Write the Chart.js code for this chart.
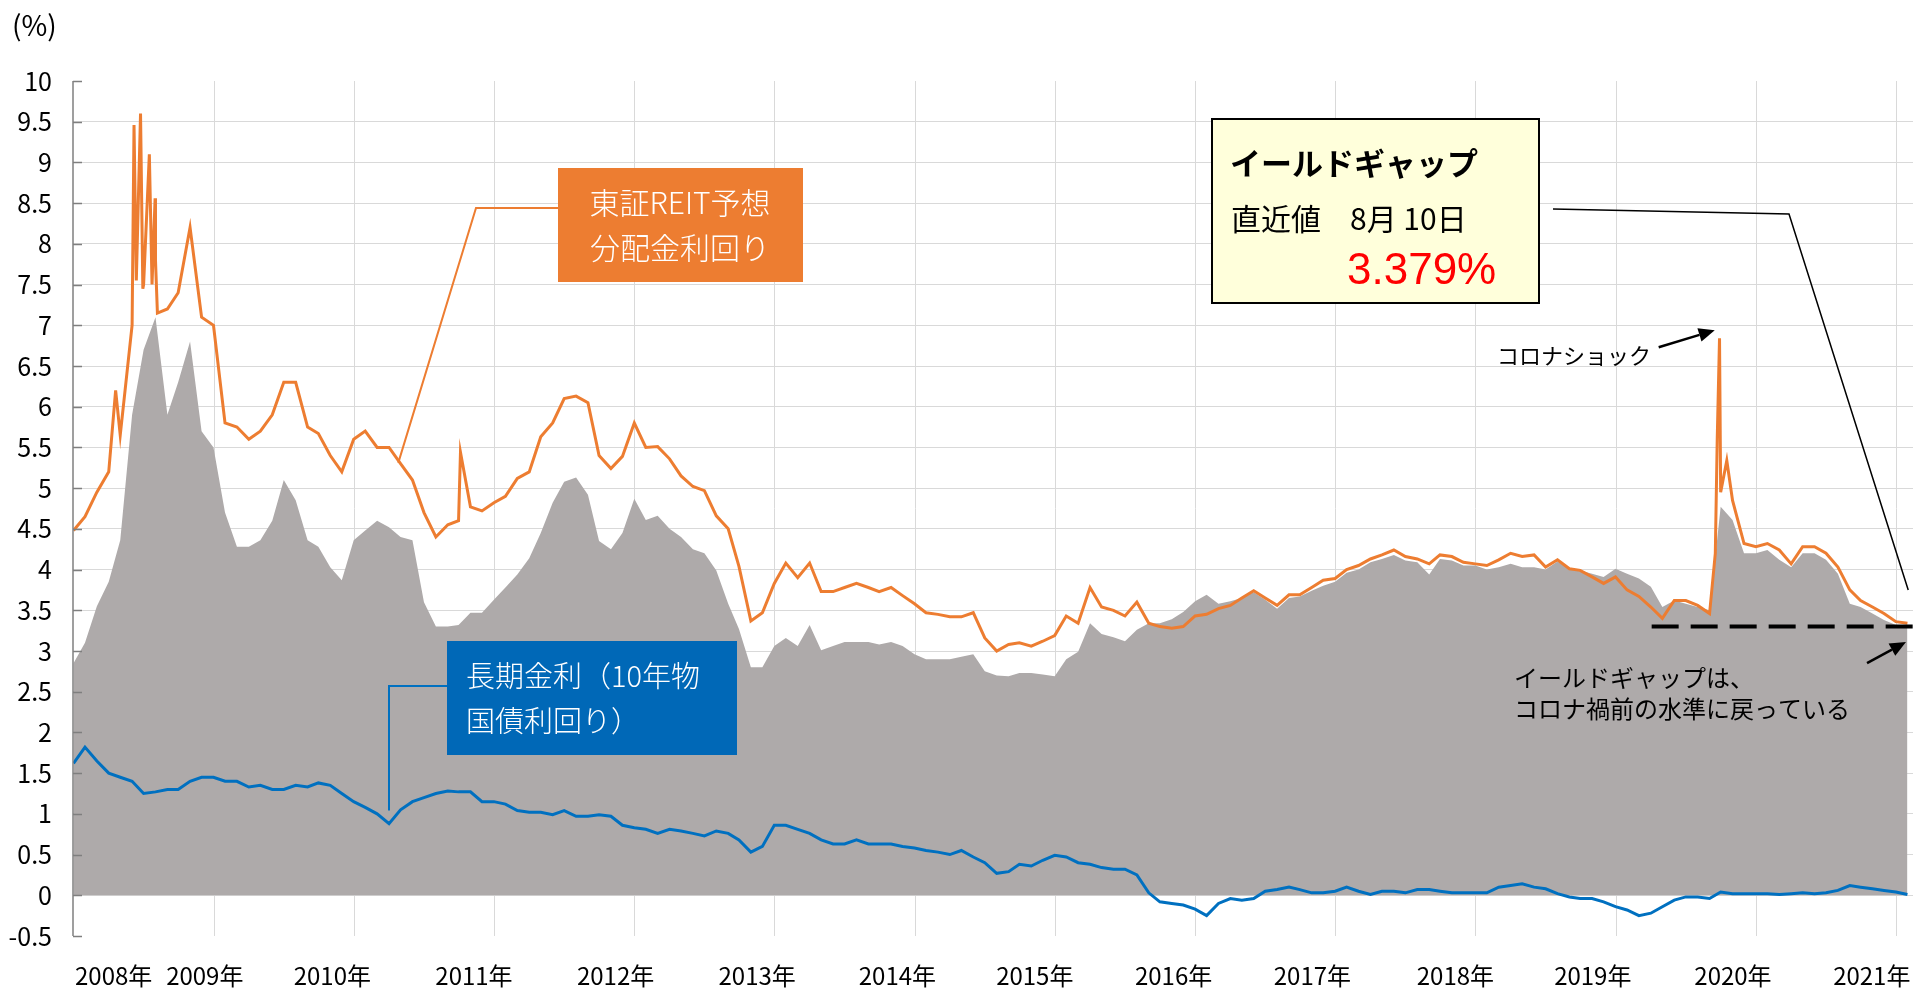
<!DOCTYPE html>
<html lang="ja">
<head>
<meta charset="utf-8">
<title>イールドギャップ</title>
<script src="https://cdn.jsdelivr.net/npm/chart.js"></script>
<style>
  html, body { margin: 0; padding: 0; background: #fff; }
  #wrap { position: relative; width: 1915px; height: 989px; }
</style>
</head>
<body>
<div id="wrap"><canvas id="myChart"></canvas></div>
<script>
// monthly readings (mid-month), first month 2008-06, last 2021-07
var firstYear = 2008, firstMonth = 6;

var reitYield = [
  4.48, 4.65, 4.95, 5.2, 5.65, 7.0, 7.5,
  7.8, 7.2, 7.4, 8.2, 7.1, 7.0, 5.8, 5.75, 5.6, 5.7, 5.9, 6.3,
  6.3, 5.75, 5.67, 5.4, 5.2, 5.6, 5.7, 5.5, 5.5, 5.3, 5.1, 4.7,
  4.4, 4.55, 4.6, 4.77, 4.72, 4.82, 4.9, 5.12, 5.2, 5.63, 5.8, 6.1,
  6.13, 6.05, 5.4, 5.24, 5.39, 5.8, 5.5, 5.51, 5.36, 5.15, 5.02, 4.97,
  4.66, 4.5, 4.04, 3.37, 3.47, 3.83, 4.08, 3.9, 4.08, 3.73, 3.73, 3.78,
  3.83, 3.78, 3.73, 3.78, 3.68, 3.58, 3.47, 3.45, 3.42, 3.42, 3.47, 3.16,
  3.0, 3.08, 3.1, 3.06, 3.12, 3.19, 3.43, 3.34, 3.78, 3.54, 3.5, 3.43,
  3.6, 3.34, 3.3, 3.28, 3.3, 3.43, 3.45, 3.52, 3.56, 3.65, 3.74, 3.65,
  3.56, 3.69, 3.69, 3.78, 3.87, 3.89, 4.0, 4.05, 4.13, 4.18, 4.24, 4.16,
  4.13, 4.07, 4.18, 4.16, 4.09, 4.07, 4.05, 4.12, 4.2, 4.16, 4.18, 4.03,
  4.12, 4.01, 3.99, 3.91, 3.83, 3.91, 3.75, 3.67, 3.54, 3.4, 3.62, 3.62,
  3.56, 3.46, 4.95, 4.85, 4.32, 4.28, 4.32, 4.24, 4.07, 4.28, 4.28, 4.2,
  4.03, 3.75, 3.62, 3.54, 3.46, 3.36, 3.34
];

// short-lived peaks of the REIT yield between the monthly readings
var reitSpikes = [
  ['2008-10-03', 6.2], ['2008-11-20', 9.46], ['2008-11-26', 7.55], ['2008-12-07', 9.6],
  ['2008-12-13', 7.45], ['2008-12-30', 9.1], ['2009-01-06', 7.5], ['2009-01-14', 8.56],
  ['2009-01-20', 7.15], ['2011-03-20', 5.44], ['2020-03-01', 4.2], ['2020-03-06', 5.6],
  ['2020-03-12', 6.84], ['2020-03-31', 5.34]
];

var jgbYield = [
  1.62, 1.82, 1.65, 1.5, 1.45, 1.4, 1.25,
  1.27, 1.3, 1.3, 1.4, 1.45, 1.45, 1.4, 1.4, 1.33, 1.35, 1.3, 1.3,
  1.35, 1.33, 1.38, 1.35, 1.25, 1.15, 1.08, 1.0, 0.88, 1.05, 1.15, 1.2,
  1.25, 1.28, 1.27, 1.27, 1.15, 1.15, 1.12, 1.04, 1.02, 1.02, 0.99, 1.04,
  0.97, 0.97, 0.99, 0.97, 0.86, 0.83, 0.81, 0.76, 0.81, 0.79, 0.76, 0.73,
  0.79, 0.76, 0.68, 0.53, 0.6, 0.86, 0.86, 0.81, 0.76, 0.68, 0.63, 0.63,
  0.68, 0.63, 0.63, 0.63, 0.6, 0.58, 0.55, 0.53, 0.5, 0.55, 0.47, 0.4,
  0.27, 0.29, 0.38, 0.36, 0.43, 0.49, 0.47, 0.4, 0.38, 0.34, 0.32, 0.32,
  0.25, 0.03, -0.08, -0.1, -0.12, -0.17, -0.25, -0.1, -0.04, -0.06, -0.04, 0.05,
  0.07, 0.1, 0.07, 0.03, 0.03, 0.05, 0.1, 0.05, 0.01, 0.05, 0.05, 0.03,
  0.07, 0.07, 0.05, 0.03, 0.03, 0.03, 0.03, 0.1, 0.12, 0.14, 0.1, 0.08,
  0.02, -0.02, -0.04, -0.04, -0.08, -0.14, -0.18, -0.25, -0.22, -0.14, -0.06, -0.02,
  -0.02, -0.04, 0.04, 0.02, 0.02, 0.02, 0.02, 0.01, 0.02, 0.03, 0.02, 0.03,
  0.06, 0.12, 0.1, 0.08, 0.06, 0.04, 0.01
];

var yieldGap = [
  2.85, 3.1, 3.55, 3.85, 4.36, 5.9, 6.7,
  7.1, 5.9, 6.3, 6.8, 5.7, 5.5, 4.7, 4.28, 4.28, 4.36, 4.6, 5.1,
  4.85, 4.36, 4.28, 4.03, 3.87, 4.36, 4.48, 4.6, 4.52, 4.4, 4.36, 3.6,
  3.3, 3.3, 3.32, 3.47, 3.47, 3.63, 3.78, 3.94, 4.14, 4.45, 4.82, 5.08,
  5.13, 4.92, 4.35, 4.25, 4.45, 4.87, 4.61, 4.66, 4.5, 4.4, 4.25, 4.2,
  3.99, 3.58, 3.27, 2.8, 2.8, 3.06, 3.16, 3.06, 3.32, 3.01, 3.06, 3.11,
  3.11, 3.11, 3.08, 3.11, 3.06, 2.96, 2.9, 2.9, 2.9, 2.93, 2.96, 2.75,
  2.7, 2.69, 2.73, 2.73, 2.71, 2.69, 2.9, 2.99, 3.34, 3.21, 3.17, 3.12,
  3.26, 3.34, 3.34, 3.39, 3.48, 3.61, 3.69, 3.58, 3.61, 3.65, 3.72, 3.63,
  3.52, 3.65, 3.67, 3.74, 3.8, 3.85, 3.96, 4.0, 4.09, 4.13, 4.18, 4.11,
  4.09, 3.94, 4.13, 4.11, 4.05, 4.05, 4.0, 4.03, 4.07, 4.03, 4.03, 4.0,
  4.1, 4.01, 3.99, 3.95, 3.91, 4.01, 3.95, 3.89, 3.79, 3.54, 3.62, 3.58,
  3.54, 3.5, 4.77, 4.61, 4.2, 4.2, 4.24, 4.12, 4.03, 4.2, 4.2, 4.12,
  3.95, 3.58, 3.54, 3.46, 3.38, 3.32, 3.32
];

// x axis: decimal years
var xMin = 2008.45, xMax = 2021.574;
var gridYears = [2009.456, 2010.456, 2011.456, 2012.456, 2013.456, 2014.456, 2015.456,
                 2016.456, 2017.456, 2018.456, 2019.456, 2020.456, 2021.456];
var labelYears = [2008.74, 2009.39, 2010.30, 2011.31, 2012.32, 2013.33, 2014.33,
                  2015.31, 2016.30, 2017.29, 2018.31, 2019.29, 2020.29, 2021.28];
var yearNames = ['2008', '2009', '2010', '2011', '2012', '2013', '2014',
                 '2015', '2016', '2017', '2018', '2019', '2020', '2021'];

var gapLevel = 3.3;   // dashed reference (pre-corona gap)
var jpFont = '"Noto Sans CJK JP", "Noto Sans", sans-serif';

function toYear(s) {
  var p = s.split('-').map(Number);
  var a = Date.UTC(p[0], 0, 1), b = Date.UTC(p[0] + 1, 0, 1);
  return p[0] + (Date.UTC(p[0], p[1] - 1, p[2] || 15) - a) / (b - a);
}
function monthDate(i) {
  var m = firstMonth - 1 + i;
  var y = firstYear + Math.floor(m / 12);
  var mm = m % 12 + 1;
  return y + '-' + (mm < 10 ? '0' : '') + mm + '-15';
}
function points(values) {
  return values.map(function(v, i) { return { x: toYear(monthDate(i)), y: v }; });
}

var reitPoints = points(reitYield).concat(reitSpikes.map(function(s) {
  return { x: toYear(s[0]), y: s[1] };
})).sort(function(a, b) { return a.x - b.x; });
var jgbPoints = points(jgbYield);
var gapPoints = points(yieldGap);

function arrow(c, x1, y1, x2, y2) {
  var a = Math.atan2(y2 - y1, x2 - x1), h = 16, w = 7;
  var bx = x2 - h * Math.cos(a), by = y2 - h * Math.sin(a);
  c.beginPath(); c.moveTo(x1, y1); c.lineTo(bx, by); c.stroke();
  c.beginPath(); c.moveTo(x2, y2);
  c.lineTo(bx + w * Math.sin(a), by - w * Math.cos(a));
  c.lineTo(bx - w * Math.sin(a), by + w * Math.cos(a));
  c.closePath(); c.fill();
}

var axisLine = {
  id: 'axisLine',
  afterDatasetsDraw: function(chart) {
    var c = chart.ctx, y = chart.scales.y, area = chart.chartArea;
    c.save();
    c.strokeStyle = '#7F7F7F';
    c.lineWidth = 1.5;
    c.beginPath(); c.moveTo(area.left, area.top); c.lineTo(area.left, area.bottom); c.stroke();
    y.ticks.forEach(function(t) {
      var py = Math.round(y.getPixelForValue(t.value)) + 0.5;
      c.beginPath(); c.moveTo(area.left, py); c.lineTo(area.left + 9, py); c.stroke();
    });
    c.restore();
  }
};

var notes = {
  id: 'notes',
  afterDraw: function(chart) {
    var c = chart.ctx, sx = chart.scales.x, sy = chart.scales.y, area = chart.chartArea;
    var X = function(v) { return sx.getPixelForValue(v); };
    var Y = function(v) { return sy.getPixelForValue(v); };
    c.save();

    // unit
    c.fillStyle = '#000';
    c.font = '28px ' + jpFont;
    c.textBaseline = 'middle';
    c.textAlign = 'left';
    c.fillText('(%)', 12, 25);

    // dashed level
    c.strokeStyle = '#000';
    c.lineWidth = 4;
    c.setLineDash([27, 12]);
    c.beginPath(); c.moveTo(X(2019.71), Y(gapLevel)); c.lineTo(area.right + 2, Y(gapLevel)); c.stroke();
    c.setLineDash([]);

    // REIT label
    c.strokeStyle = '#ED7D31';
    c.lineWidth = 2;
    c.beginPath(); c.moveTo(558, 208); c.lineTo(476, 208); c.lineTo(X(2010.77), Y(5.31)); c.stroke();
    c.fillStyle = '#ED7D31';
    c.fillRect(558, 168, 245, 114);
    c.fillStyle = '#fff';
    c.font = '300 30px ' + jpFont;
    c.textAlign = 'center';
    c.fillText('東証REIT予想', 680, 203);
    c.fillText('分配金利回り', 680, 248);

    // JGB label
    c.strokeStyle = '#0070C0';
    c.lineWidth = 2;
    c.beginPath(); c.moveTo(447, 686); c.lineTo(389, 686); c.lineTo(389, Y(1.04)); c.stroke();
    c.fillStyle = '#0068B7';
    c.fillRect(447, 641, 290, 114);
    c.fillStyle = '#fff';
    c.font = '300 29px ' + jpFont;
    c.textAlign = 'left';
    c.fillText('長期金利（10年物', 466, 676);
    c.fillText('国債利回り）', 466, 721);

    // latest value box
    c.strokeStyle = '#000';
    c.lineWidth = 1.5;
    c.beginPath(); c.moveTo(1553, 209); c.lineTo(1789, 214); c.lineTo(X(2021.54), Y(3.75)); c.stroke();
    c.fillStyle = '#FFFFDB';
    c.fillRect(1212, 119, 327, 184);
    c.lineWidth = 2;
    c.strokeRect(1212, 119, 327, 184);
    c.fillStyle = '#000';
    c.font = 'bold 31px ' + jpFont;
    c.fillText('イールドギャップ', 1230, 163);
    c.font = '30px ' + jpFont;
    c.fillText('直近値', 1231, 219);
    c.fillText('8月 10日', 1350, 219);
    c.fillStyle = '#FF0000';
    c.font = '44px "Liberation Sans", Arial, sans-serif';
    c.fillText('3.379%', 1347, 272);

    // corona shock
    c.fillStyle = '#000';
    c.strokeStyle = '#000';
    c.lineWidth = 2.5;
    c.font = '22px ' + jpFont;
    c.fillText('コロナショック', 1497, 356);
    arrow(c, X(2019.76), Y(6.73), X(2020.16), Y(6.94));

    // comment on the gap
    c.font = '24px ' + jpFont;
    c.fillText('イールドギャップは、', 1514, 678);
    c.fillText('コロナ禍前の水準に戻っている', 1514, 709);
    arrow(c, X(2021.246), Y(2.85), X(2021.524), Y(3.11));

    c.restore();
  }
};

var ctx = document.getElementById('myChart').getContext('2d');
const chart = new Chart(ctx, {
  type: 'line',
  data: {
    datasets: [{
      label: '東証REIT予想分配金利回り',
      data: reitPoints,
      borderColor: '#ED7D31',
      borderWidth: 3,
      pointRadius: 0,
      fill: false,
      order: 1
    }, {
      label: '長期金利（10年物国債利回り）',
      data: jgbPoints,
      borderColor: '#0070C0',
      borderWidth: 3,
      pointRadius: 0,
      fill: false,
      order: 2
    }, {
      label: 'イールドギャップ',
      data: gapPoints,
      borderColor: 'rgba(0,0,0,0)',
      borderWidth: 0,
      backgroundColor: '#AEAAAA',
      pointRadius: 0,
      fill: 'origin',
      order: 3
    }]
  },
  options: {
    responsive: true,
    maintainAspectRatio: false,
    animation: false,
    layout: { padding: { top: 81, right: 2, left: 0, bottom: 0 } },
    plugins: {
      legend: { display: false },
      tooltip: { enabled: false }
    },
    scales: {
      x: {
        type: 'linear',
        weight: 0,
        min: xMin,
        max: xMax,
        grid: { color: '#D9D9D9', drawTicks: false },
        border: { display: false },
        ticks: { display: false },
        afterBuildTicks: function(axis) {
          axis.ticks = gridYears.map(function(v) { return { value: v }; });
        },
        afterFit: function(axis) { axis.height = 25; }
      },
      xLabels: {
        type: 'linear',
        position: 'bottom',
        weight: 1,
        min: xMin,
        max: xMax,
        grid: { display: false, drawTicks: false },
        border: { display: false },
        ticks: {
          autoSkip: false,
          maxRotation: 0,
          minRotation: 0,
          padding: 0,
          color: '#000',
          font: { family: jpFont, size: 24 },
          callback: function(v, i) { return yearNames[i] + '年'; }
        },
        afterBuildTicks: function(axis) {
          axis.ticks = labelYears.map(function(v) { return { value: v }; });
        },
        afterFit: function(axis) { axis.height = 28; }
      },
      y: {
        min: -0.5,
        max: 10,
        ticks: {
          stepSize: 0.5,
          padding: 21,
          color: '#000',
          font: { family: jpFont, size: 25 },
          callback: function(v) { return String(Math.round(v * 10) / 10); }
        },
        grid: {
          drawTicks: false,
          color: function(c) {
            var v = c.tick ? c.tick.value : 0;
            return (v >= 10 || v <= -0.5) ? 'rgba(0,0,0,0)' : '#D9D9D9';
          }
        },
        border: { display: false },
        afterFit: function(axis) { axis.width = 73; }
      }
    }
  },
  plugins: [axisLine, notes]
});
</script>
</body>
</html>
